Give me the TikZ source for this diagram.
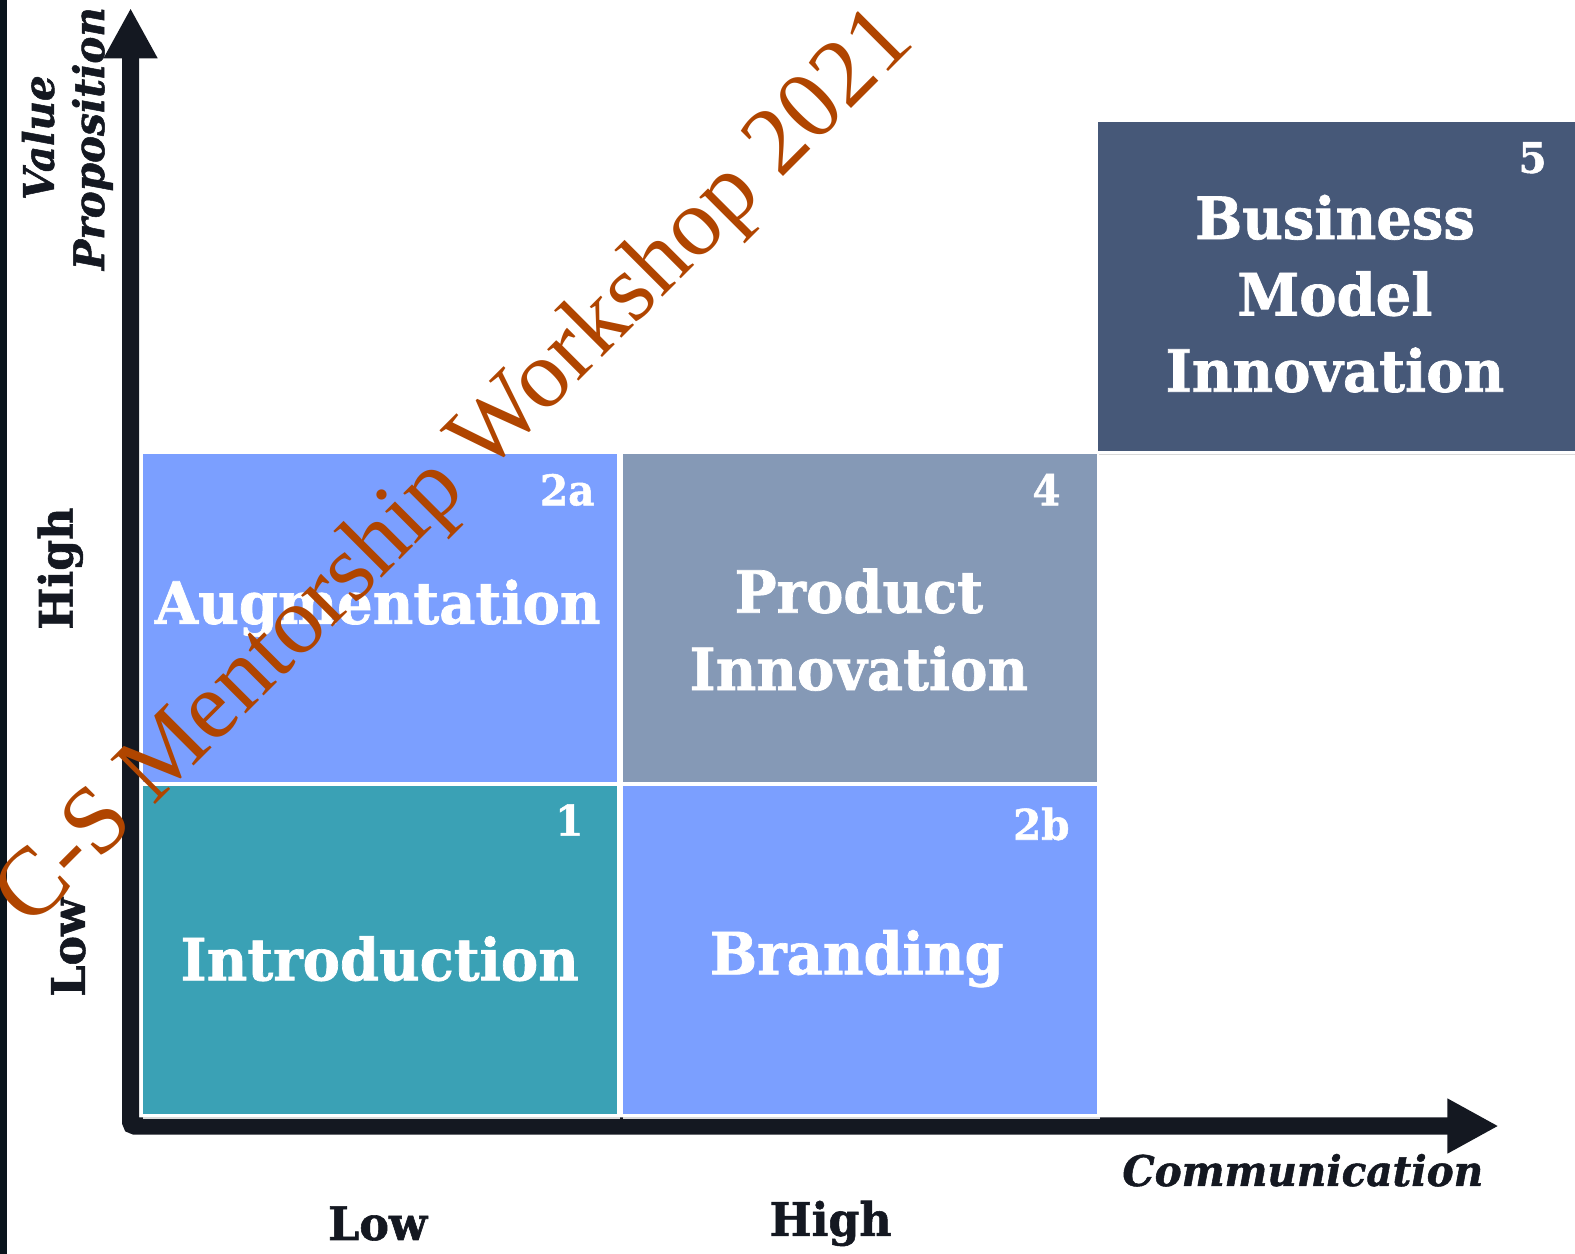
\documentclass[tikz,border=0pt]{standalone}
\usepackage{fontspec}
\setmainfont{DejaVu Serif}
\newfontfamily\slab[FakeStretch=0.96, BoldFeatures={FakeBold=1.2}, BoldItalicFeatures={FakeBold=1.2}]{DejaVu Serif}
\newfontfamily\wmfont{Liberation Serif}
\usetikzlibrary{arrows.meta}
\definecolor{axisc}{HTML}{141821}
\definecolor{leftbar}{HTML}{0A141C}
\definecolor{periw}{HTML}{7B9FFF}
\definecolor{slate}{HTML}{8599B6}
\definecolor{tealc}{HTML}{3AA1B5}
\definecolor{navyc}{HTML}{465878}
\definecolor{wmc}{HTML}{B04500}
\tikzset{
  box/.style={draw=white, line width=3pt, inner sep=0pt, minimum width=475pt, minimum height=330pt,
    preaction={fill=black!15, transform canvas={shift={(2pt,-3pt)}}}},
  big/.style={text=white, font=\slab\bfseries\fontsize{58}{70}\selectfont, inner sep=0pt, anchor=base},
  num/.style={text=white, font=\slab\bfseries\fontsize{42}{48}\selectfont, inner sep=0pt, anchor=base east},
  axlbl/.style={text=axisc, font=\slab\bfseries\fontsize{46}{52}\selectfont, inner sep=0pt},
  axital/.style={text=axisc, font=\slab\bfseries\itshape\fontsize{42}{48}\selectfont, inner sep=0pt},
  axisline/.style={draw=axisc, line width=17pt, rounded corners=4pt,
    {Triangle[length=50pt,width=50pt]}-{Triangle[length=51pt,width=51pt]}},
  wmark/.style={text=wmc, font=\wmfont\fontsize{96}{110}\selectfont, inner sep=0pt}
}
\begin{document}
\begin{tikzpicture}[x=1pt,y=-1pt]
\useasboundingbox (0,0) rectangle (1568,1248);
\fill[white] (0,0) rectangle (1568,1248);
\fill[leftbar] (0,0) rectangle (7,1248);

% axes
\coordinate (ytip) at (130,8);
\coordinate (corner) at (130,1121);
\coordinate (xtip) at (1492,1121);
\draw[axisline] (ytip) -- (corner) -- (xtip);

% boxes
\node[box, fill=periw] (b2a) at (378,615) {};
\node[box, fill=slate] (b4) at (856,615) {};
\node[box, fill=tealc] (b1) at (378,946) {};
\node[box, fill=periw] (b2b) at (856,946) {};
\node[box, fill=navyc, minimum width=478pt] (b5) at (1331,285) {};

% box texts
\node[big] (t2a) at (376,621) {Augmentation};
\node[big] (t4a) at (855,610) {Product};
\node[big] (t4b) at (855,687) {Innovation};
\node[big] (t1) at (378,976) {Introduction};
\node[big] (t2b) at (853,970) {Branding};
\node[big] (t5a) at (1329,238) {Business};
\node[big] (t5b) at (1329,314) {Model};
\node[big] (t5c) at (1329,390) {Innovation};

% numbers
\node[num] (n2a) at (592,503) {2a};
\node[num] (n4) at (1056,503) {4};
\node[num] (n1) at (581,832) {1};
\node[num] (n2b) at (1065,836) {2b};
\node[num] (n5) at (1540,172) {5};

% axis labels
\node[axital, rotate=90] (lv1) at (38,137) {Value};
\node[axital, rotate=90] (lv2) at (92,138) {Proposition};
\node[axlbl, rotate=90] (lh) at (60,566) {High};
\node[axlbl, rotate=90] (ll) at (68,943) {Low};
\node[axlbl] (bl) at (376,1218) {Low};
\node[axlbl] (bh) at (827,1218) {High};
\node[axital] (comm) at (1297,1165) {Communication};

% watermark
\node[wmark, rotate=45] (wm) at (455,468) {C-S Mentorship Workshop 2021};
\end{tikzpicture}
\end{document}
